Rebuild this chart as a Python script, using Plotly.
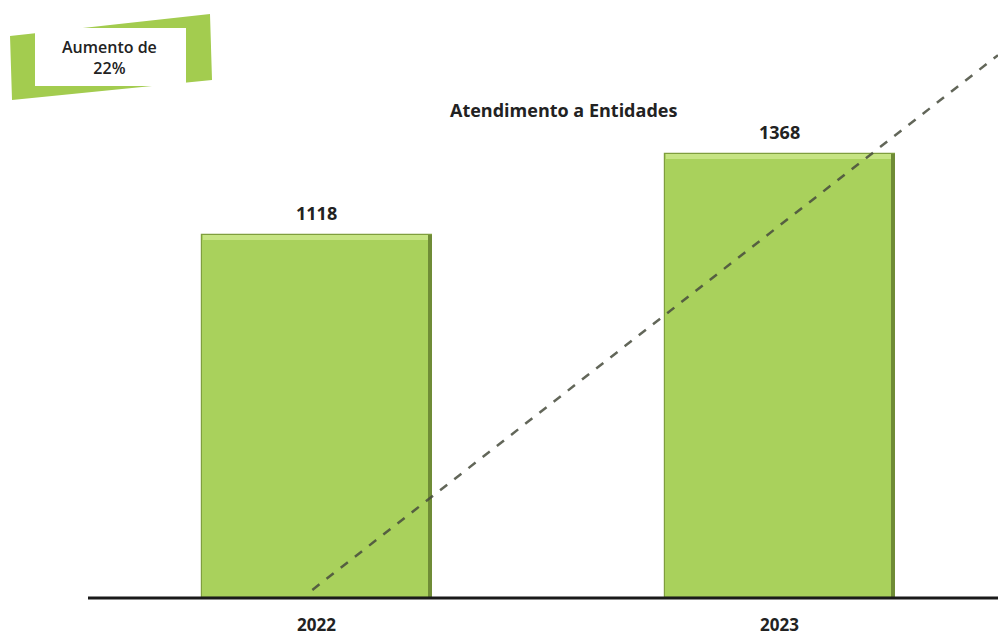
import plotly.graph_objects as go

categories = ["2022", "2023"]
values = [1118, 1368]
trend_x = [-0.01, 1.471]
trend_y = [25, 1673]

W, H = 998, 636
L, R, T, B = 88, 0, 0, 38
YMAX = 1843
XMIN, XMAX = -0.4946, 1.471
BW = 0.497
xs = list(range(len(values)))

def px(x):
    return (x - L) / (W - L - R)

def py(y):
    return (H - B - y) / (H - T - B)

FONT = "Open Sans"
fig = go.Figure()
fig.add_trace(go.Bar(
    x=xs, y=values, width=BW,
    marker=dict(color="#A9D15C", line=dict(color="#7F9E3E", width=1.2)),
    showlegend=False, hoverinfo="skip",
))
# top bevel highlight
fig.add_trace(go.Bar(
    x=xs, y=[14] * len(values), base=[v - 14 for v in values], width=BW - 0.004,
    marker=dict(color="#C6E483", line=dict(width=0)), showlegend=False, hoverinfo="skip",
))
# right edge shadow
fig.add_trace(go.Bar(
    x=[i + BW / 2 - 0.005 for i in xs], y=values, width=0.009,
    marker=dict(color="#6F8C36", line=dict(width=0)), showlegend=False, hoverinfo="skip",
))
fig.add_trace(go.Scatter(
    x=trend_x, y=trend_y, mode="lines",
    line=dict(color="rgba(70,75,60,0.85)", width=2.5, dash="dash"),
    showlegend=False, cliponaxis=False,
))

shapes = []
pts = [(10, 36), (210, 14), (212, 80), (12, 100)]
path = "M " + " L ".join(f"{px(x)},{py(y)}" for x, y in pts) + " Z"
shapes.append(dict(type="path", xref="paper", yref="paper", path=path,
                   fillcolor="#A3CC4F", line=dict(width=0), layer="above"))
shapes.append(dict(type="rect", xref="paper", yref="paper",
                   x0=px(35), x1=px(186), y0=py(28), y1=py(86),
                   fillcolor="white", line=dict(width=0), layer="above"))
shapes.append(dict(type="line", xref="paper", yref="paper", x0=0, x1=1, y0=0, y1=0,
                   line=dict(color="#1a1a1a", width=3), layer="above"))

annotations = [
    dict(text="<b>Atendimento a Entidades</b>", xref="paper", yref="paper",
         x=px(563), y=py(110), xanchor="center", yanchor="middle", showarrow=False,
         font=dict(family=FONT, size=18, color="#222222")),
    dict(text="Aumento de<br>22%", xref="paper", yref="paper",
         x=px(109), y=py(57), xanchor="center", yanchor="middle", showarrow=False,
         align="center", font=dict(family=FONT, size=16, weight=600, color="#222222")),
]
for i, v in enumerate(values):
    annotations.append(dict(text=f"<b>{v}</b>", xref="x", yref="y", x=i, y=v,
                            xanchor="center", yanchor="bottom", yshift=8, showarrow=False,
                            font=dict(family=FONT, size=18, color="#222222")))
for i, c in enumerate(categories):
    annotations.append(dict(text=f"<b>{c}</b>", xref="x", yref="paper", x=i, y=py(624),
                            xanchor="center", yanchor="middle", showarrow=False,
                            font=dict(family=FONT, size=17, color="#222222")))

fig.update_layout(
    width=W, height=H, margin=dict(l=L, r=R, t=T, b=B),
    paper_bgcolor="white", plot_bgcolor="white", barmode="overlay",
    xaxis=dict(range=[XMIN, XMAX], showticklabels=False, showgrid=False, zeroline=False,
               showline=False, ticks=""),
    yaxis=dict(range=[0, YMAX], visible=False, showgrid=False),
    shapes=shapes, annotations=annotations, bargap=0,
)
fig.write_html("out.html")
